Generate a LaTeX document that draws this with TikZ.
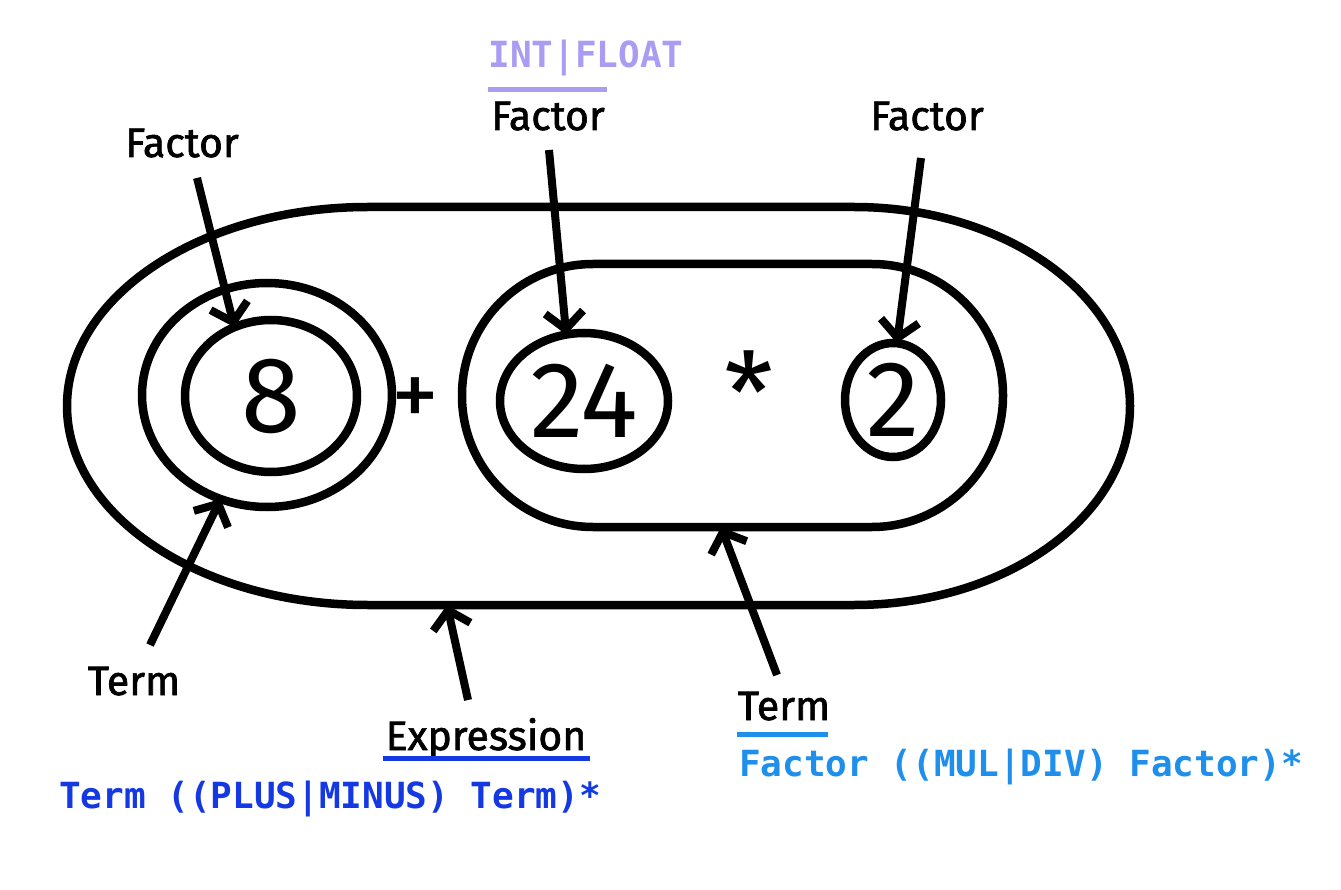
\documentclass[tikz,border=0pt]{standalone}
\usepackage{fontspec}
\usetikzlibrary{arrows.meta,shapes.geometric}
\newfontfamily\lblfont{Fira Sans}[FakeBold=1.6]
\newfontfamily\numfont{Fira Sans}
\newfontfamily\codefont{DejaVu Sans Mono}
\definecolor{intcol}{HTML}{A99CF2}
\definecolor{exprcol}{HTML}{1439E2}
\definecolor{termcol}{HTML}{1E8FEA}
\begin{document}
\begin{tikzpicture}[x=1pt,y=-1pt,
  stroke/.style={line width=8.5pt},
  oval/.style={ellipse, draw, line width=8.5pt, inner sep=0pt, outer sep=0pt},
  digit/.style={font=\numfont\fontsize{108}{108}\selectfont},
  lbl/.style={font=\lblfont\fontsize{41}{43}\selectfont, anchor=base, inner sep=0pt},
  code/.style={font=\codefont\bfseries\fontsize{36}{38}\selectfont, anchor=base, inner sep=0pt},
  ptr/.style={line width=8pt, -{Straight Barb[length=17pt,width=38pt]}},
  uline/.style={line width=5pt}]
\fill[white] (0,0) rectangle (1341,890);
\useasboundingbox (0,0) rectangle (1341,890);

% Expression: outer oval with elliptic ends
\draw[stroke] (368,207) -- (854,207)
  arc[start angle=-90, end angle=90, x radius=276, y radius=199]
  -- (368,605)
  arc[start angle=90, end angle=270, x radius=301, y radius=199] -- cycle;

% Term: 24 * 2
\node[draw, line width=8.5pt, rounded corners=131pt, minimum width=541pt,
      minimum height=263pt, inner sep=0pt, outer sep=0pt] (term) at (732.5,395.5) {};

% Term around 8, and the factors
\node[oval, minimum width=250pt, minimum height=224pt] (t8) at (267,395) {};
\node[oval, minimum width=172pt, minimum height=152pt, digit] (f8) at (271,396) {8};
\node[oval, minimum width=168pt, minimum height=136pt, digit] (f24) at (584,401) {24};
\node[oval, minimum width=96pt, minimum height=114pt, digit] (f2) at (893,400) {2};

% operators
\node[font=\numfont\fontsize{96}{96}\selectfont, inner sep=0pt] (plus) at (415,403) {+};
\node[font=\numfont\fontsize{112}{112}\selectfont, inner sep=0pt] (times) at (749,392) {*};

% labels
\node[lbl] (fac1) at (182,157) {Factor};
\node[lbl] (fac2) at (548,130) {Factor};
\node[lbl] (fac3) at (927,130) {Factor};
\node[code, text=intcol] (intf) at (586,68) {INT|FLOAT};
\node[lbl] (term1) at (134,695) {Term};
\node[lbl] (exprl) at (486,750) {Expression};
\node[lbl] (term2) at (784,720) {Term};
\node[code, text=exprcol] (exprg) at (330,808) {Term ((PLUS|MINUS) Term)*};
\node[code, text=termcol] (termg) at (1021,776) {Factor ((MUL|DIV) Factor)*};

% underlines
\draw[uline, intcol] (488,90) -- (607,90);
\draw[uline, exprcol] (383,758) -- (590,758);
\draw[uline, termcol] (737,734) -- (828,734);

% pointers
\coordinate (a1) at (197,178);
\coordinate (a2) at (549,150);
\coordinate (a3) at (921,158);
\coordinate (a4) at (150,645);
\coordinate (a5) at (468,700);
\coordinate (e5) at (447,605);
\coordinate (a6) at (777,675);
\draw[ptr] (a1) -- (f8.118);
\draw[ptr] (a2) -- (f24.105);
\draw[ptr] (a3) -- (f2.86);
\draw[ptr] (a4) -- (t8.246);
\draw[ptr] (a5) -- (e5);
\draw[ptr] (a6) -- (term.265.5);
\end{tikzpicture}
\end{document}
